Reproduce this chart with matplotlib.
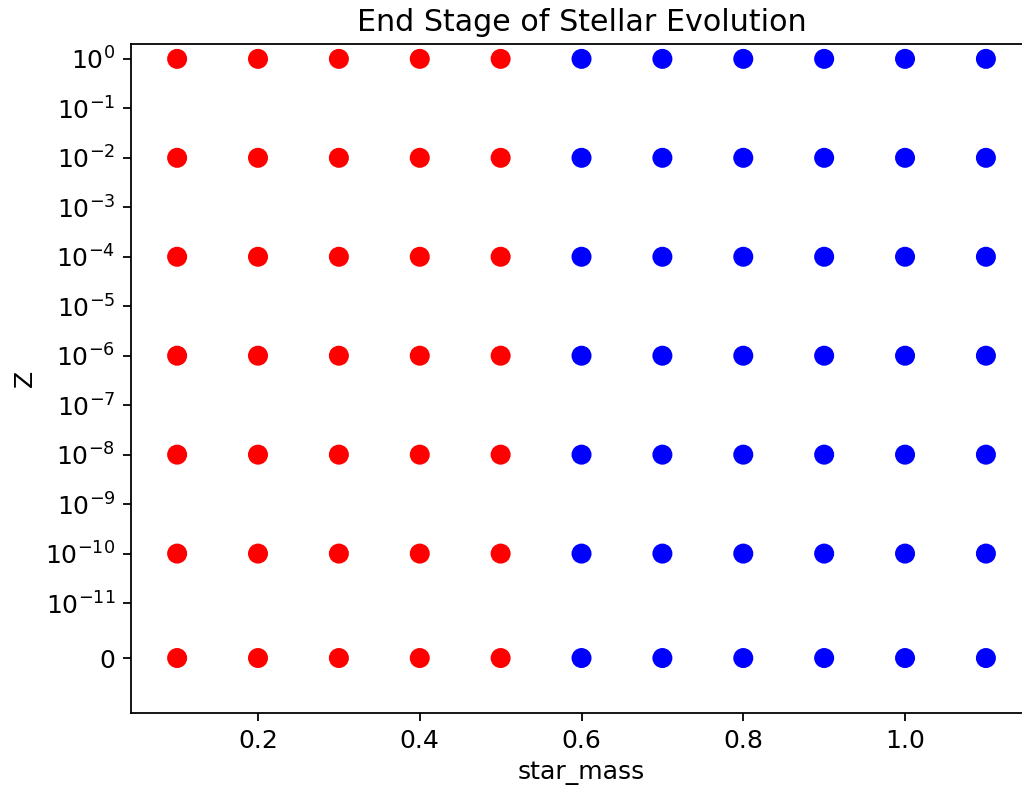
import numpy as np
import matplotlib
matplotlib.use('Agg')
import matplotlib.pyplot as plt

# grid of runs: star mass vs metallicity
star_mass = [0.1, 0.2, 0.3, 0.4, 0.5, 0.6, 0.7, 0.8, 0.9, 1.0, 1.1]
Z = [0, 1e-10, 1e-8, 1e-6, 1e-4, 1e-2, 1.0]
# end stage per mass (same for every Z): red below 0.6, blue from 0.6 up
stage_color = ['red', 'red', 'red', 'red', 'red',
               'blue', 'blue', 'blue', 'blue', 'blue', 'blue']
z_ticks = [0] + [10.0 ** e for e in range(-11, 1)]


def main():
    plt.rcParams['font.size'] = 11.3
    fig = plt.figure(figsize=(1022 / 160, 791 / 160), dpi=160)
    ax = fig.add_axes([0.1282, 0.0986, 0.8816, 0.8458])

    for z in Z:
        ax.scatter(star_mass, [z] * len(star_mass), c=stage_color, s=64, zorder=3)

    ax.set_yscale('symlog', linthresh=1e-11)
    ax.set_yticks(z_ticks)
    ax.set_xlim(0.043, 1.157)
    ax.set_ylim(-1e-11, 2.0)
    ax.set_xticks([0.2, 0.4, 0.6, 0.8, 1.0])

    ax.set_xlabel('star_mass')
    ax.set_ylabel('Z')
    ax.set_title('End Stage of Stellar Evolution')

    fig.savefig('out.png', dpi=160)


if __name__ == '__main__':
    main()
